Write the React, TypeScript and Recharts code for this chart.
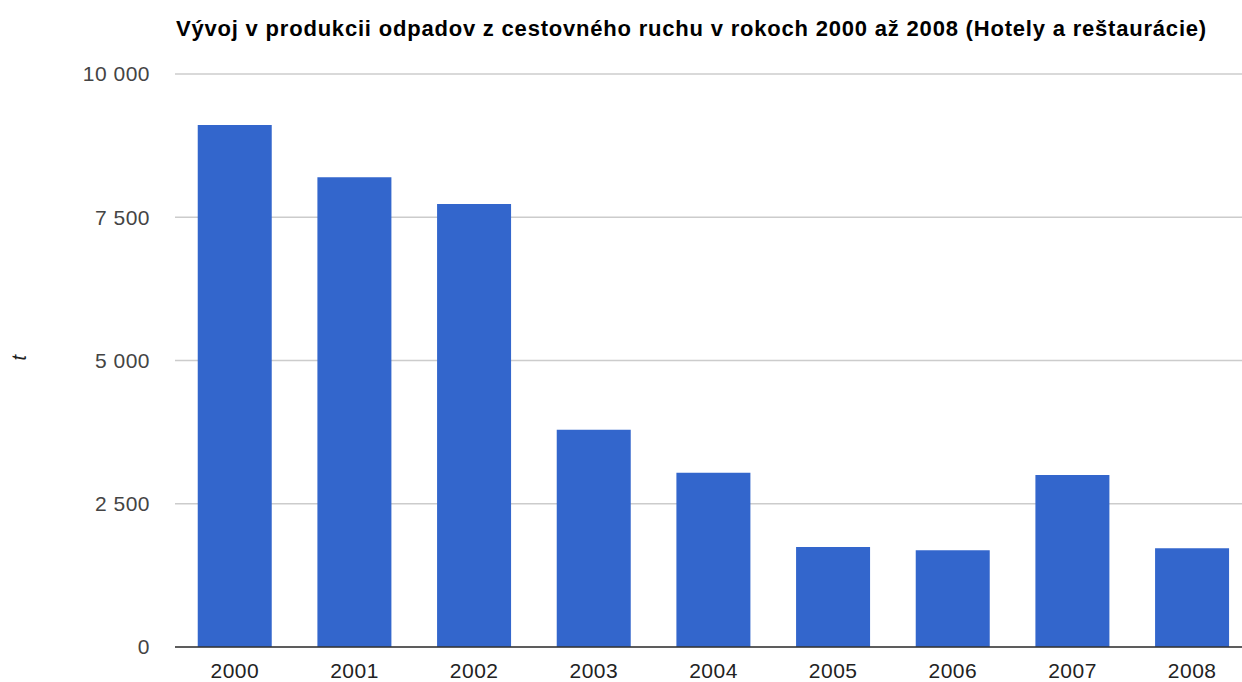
import { BarChart, Bar, XAxis, YAxis, CartesianGrid } from 'recharts';

const years = ['2000', '2001', '2002', '2003', '2004', '2005', '2006', '2007', '2008'];
const waste = [9110, 8200, 7730, 3790, 3040, 1745, 1690, 3000, 1725];
const yTicks = [0, 2500, 5000, 7500, 10000];

const data = years.map((year, i) => ({ year, value: waste[i] }));

const formatTick = (v: number) => v.toLocaleString('en-US').replace(/,/g, ' ');

const FONT = 'Arial, "Liberation Sans", sans-serif';

export default function App() {
  return (
    <div style={{ position: 'fixed', left: 0, top: 0, width: 1242, height: 682, overflow: 'hidden', background: '#fff', fontFamily: FONT }}>
      <BarChart
        width={1252}
        height={682}
        data={data}
        margin={{ top: 74, right: 0, bottom: 0, left: 0 }}
        barCategoryGap="19%"
      >
        <text x={176} y={36} fontSize={22} fontWeight="bold" letterSpacing={0.8} fill="#000" fontFamily={FONT}>
          Vývoj v produkcii odpadov z cestovného ruchu v rokoch 2000 až 2008 (Hotely a reštaurácie)
        </text>
        <CartesianGrid vertical={false} stroke="#cccccc" strokeWidth={1.5} />
        <XAxis
          dataKey="year"
          height={35}
          axisLine={{ stroke: '#333', strokeWidth: 1.5 }}
          tickLine={false}
          tickMargin={10}
          tick={{ fill: '#222', fontSize: 21, letterSpacing: 0.5, fontFamily: FONT }}
        />
        <YAxis
          width={175}
          domain={[0, 10000]}
          ticks={yTicks}
          tickFormatter={formatTick}
          axisLine={false}
          tickLine={false}
          tickMargin={19}
          tick={{ fill: '#444', fontSize: 21, letterSpacing: 0.5, fontFamily: FONT }}
          label={{ value: 't', angle: -90, position: 'insideLeft', offset: 19, fill: '#222', fontSize: 20, fontStyle: 'italic' }}
        />
        <Bar dataKey="value" fill="#3366cc" isAnimationActive={false} />
      </BarChart>
    </div>
  );
}
